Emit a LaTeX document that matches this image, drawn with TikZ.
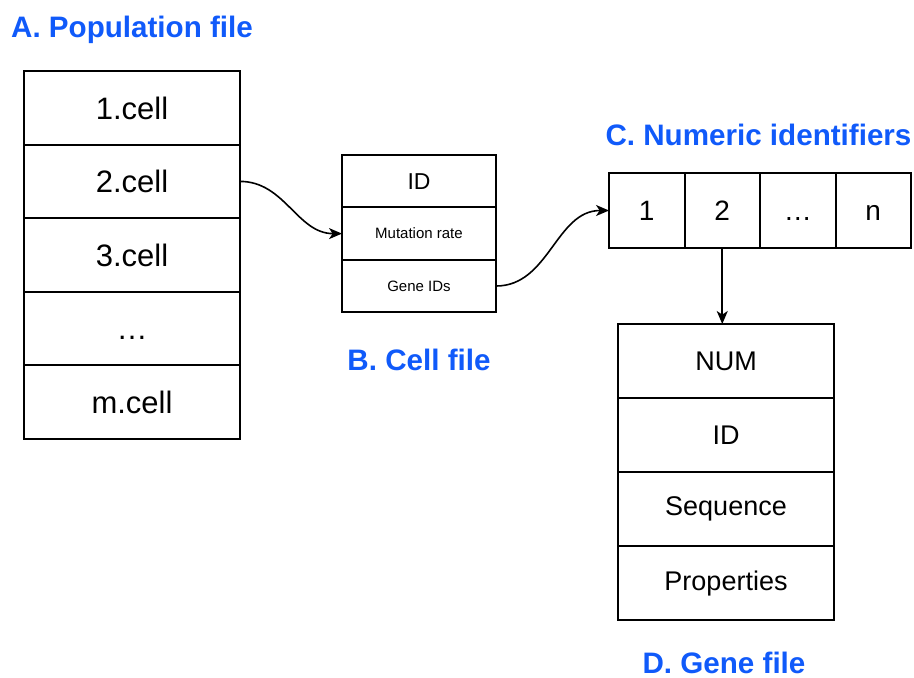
\documentclass[tikz,border=0pt]{standalone}
\usepackage{fontspec}
\setmainfont{Liberation Sans}
\usetikzlibrary{arrows.meta, positioning}
\definecolor{ttlblue}{RGB}{16,90,250}

\begin{document}
\begin{tikzpicture}[
        x=0.5pt, y=-0.5pt,
        >={Stealth[length=6.5pt, width=5.5pt, inset=1.8pt]},
        box/.style={draw, line width=1pt, outer sep=0pt, inner sep=0pt, align=center},
        pop/.style={box, minimum width=108pt, minimum height=36.8pt, text height=11.3pt, text depth=0pt, font=\fontsize{15.5}{18}\selectfont},
        cf/.style={box, minimum width=77pt, minimum height=26.2pt, font=\fontsize{7.5}{9}\selectfont},
        num/.style={box, minimum width=37.75pt, minimum height=37.5pt, text height=10.2pt, text depth=0pt, font=\fontsize{14}{17}\selectfont},
        gene/.style={box, minimum width=108pt, minimum height=37pt, font=\fontsize{13.5}{16}\selectfont},
        ttl/.style={anchor=base, text=ttlblue, font=\fontsize{14.8}{17}\selectfont\bfseries},
        link/.style={->, line width=0.8pt}
    ]
        \useasboundingbox (0,0) rectangle (914,677);

        %=================== A. population file ===================
        \node[pop] (p1) at (132,107.8) {1.cell};
        \node[pop, below=0pt of p1] (p2) {2.cell};
        \node[pop, below=0pt of p2] (p3) {3.cell};
        \node[pop, below=0pt of p3] (p4) {…};
        \node[pop, below=0pt of p4] (p5) {m.cell};
        \node[ttl] (ttlA) at (132,37) {A. Population file};

        %=================== B. cell file ===================
        \node[cf, font=\fontsize{11.5}{14}\selectfont] (c1) at (419,181.2) {ID};
        \node[cf, below=0pt of c1] (c2) {Mutation rate};
        \node[cf, below=0pt of c2] (c3) {Gene IDs};
        \node[ttl] (ttlB) at (419,370) {B. Cell file};
        \draw[link] (p2.east) to[out=0, in=180] (c2.west);

        %=================== C. numeric identifiers ===================
        \node[num] (n1) at (646.75,210.5) {1};
        \node[num, right=0pt of n1] (n2) {2};
        \node[num, right=0pt of n2] (n3) {…};
        \node[num, right=0pt of n3] (n4) {n};
        \node[ttl] (ttlC) at (758.5,145) {C. Numeric identifiers};
        \draw[link] (c3.east) to[out=0, in=180] (n1.west);

        %=================== D. gene file ===================
        \node[gene] (g1) at (726,361) {NUM};
        \node[gene, below=0pt of g1] (g2) {ID};
        \node[gene, below=0pt of g2] (g3) {Sequence};
        \node[gene, below=0pt of g3] (g4) {Properties};
        \node[ttl] (ttlD) at (724,673) {D. Gene file};
        \draw[link] (n2.south) -- (n2.south |- g1.north);
    \end{tikzpicture}
\end{document}
